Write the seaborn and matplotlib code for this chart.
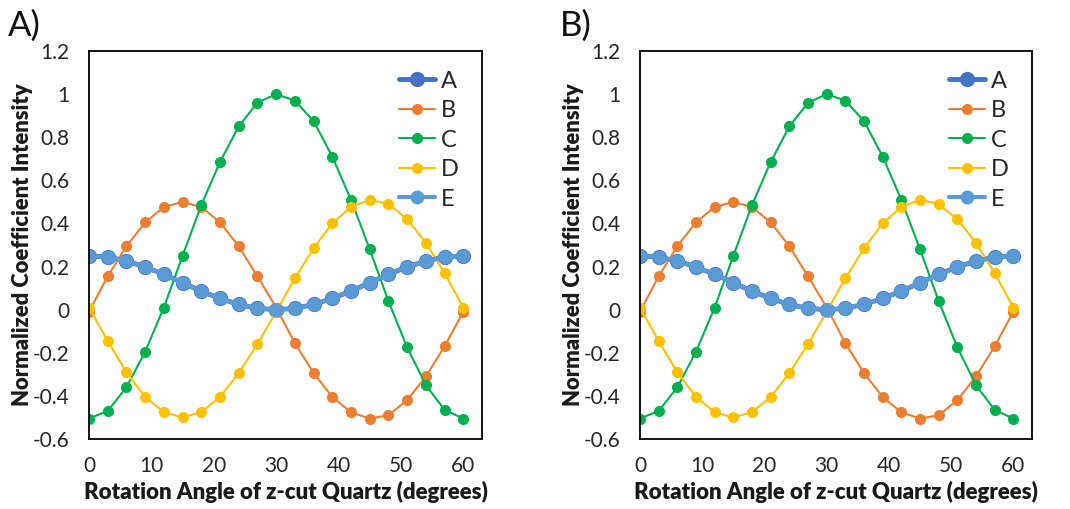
import numpy as np
import pandas as pd
import seaborn as sns
import matplotlib.pyplot as plt
from matplotlib.lines import Line2D

angles = [0, 3, 6, 9, 12, 15, 18, 21, 24, 27, 30, 33, 36, 39, 42, 45, 48, 51, 54, 57, 60]
series_a = [0.25, 0.244, 0.226, 0.198, 0.164, 0.125, 0.086, 0.052, 0.024, 0.006, 0.0,
            0.006, 0.024, 0.052, 0.086, 0.125, 0.164, 0.198, 0.226, 0.244, 0.25]
series_b = [-0.01, 0.155, 0.294, 0.405, 0.476, 0.5, 0.476, 0.405, 0.294, 0.155, 0.01,
            -0.155, -0.294, -0.405, -0.476, -0.505, -0.49, -0.42, -0.31, -0.17, -0.01]
series_c = [-0.505, -0.47, -0.36, -0.195, 0.01, 0.25, 0.485, 0.685, 0.85, 0.96, 1.0,
            0.97, 0.875, 0.71, 0.51, 0.28, 0.04, -0.175, -0.35, -0.465, -0.505]
series_d = [0.01, -0.145, -0.29, -0.405, -0.476, -0.5, -0.476, -0.405, -0.294, -0.16, -0.01,
            0.145, 0.285, 0.4, 0.476, 0.51, 0.49, 0.42, 0.31, 0.17, 0.01]
series_e = [0.25, 0.244, 0.226, 0.198, 0.164, 0.125, 0.086, 0.052, 0.024, 0.006, 0.0,
            0.006, 0.024, 0.052, 0.086, 0.125, 0.164, 0.198, 0.226, 0.244, 0.25]
series_names = ["A", "B", "C", "D", "E"]
y_ticks = [-0.6, -0.4, -0.2, 0, 0.2, 0.4, 0.6, 0.8, 1, 1.2]
y_tick_labels = ["-0.6", "-0.4", "-0.2", "0", "0.2", "0.4", "0.6", "0.8", "1", "1.2"]
x_ticks = [0, 10, 20, 30, 40, 50, 60]
panel_labels = ["A)", "B)"]

sns.set_theme(style="white")
plt.rcParams['font.family'] = ['Lato', 'DejaVu Sans']

colors = ["#4472C4", "#ED7D31", "#00B050", "#FFC000", "#5B9BD5"]
lws = [3.5, 1.5, 1.5, 1.5, 3.0]
mss = [11, 8, 8, 8, 10]
all_series = [series_a, series_b, series_c, series_d, series_e]

fig = plt.figure(figsize=(10.7, 5.09), dpi=100)
axes_pos = [[89/1070, 1-439/509, 393/1070, 388/509],
            [640/1070, 1-439/509, 392/1070, 388/509]]
label_pos = [(8/1070, 1-10/509), (560/1070, 1-10/509)]

for i, pos in enumerate(axes_pos):
    ax = fig.add_axes(pos)
    for name, vals, c, lw, ms in zip(series_names, all_series, colors, lws, mss):
        sns.lineplot(x=angles, y=vals, ax=ax, color=c, linewidth=lw, marker='o',
                     markersize=ms, markeredgewidth=0, label=name, legend=False)
    ax.set_xlim(0, 63)
    ax.set_ylim(-0.6, 1.2)
    ax.set_xticks(x_ticks)
    ax.set_xticklabels([str(t) for t in x_ticks])
    ax.set_yticks(y_ticks)
    ax.set_yticklabels(y_tick_labels)
    ax.tick_params(axis='both', direction='in', length=5, width=1.2, color='black',
                   labelsize=15, labelcolor='#262626')
    ax.tick_params(axis='x', pad=12)
    ax.tick_params(axis='y', pad=14)
    for s in ax.spines.values():
        s.set_color('black')
        s.set_linewidth(1.3)
    ax.set_xlabel("Rotation Angle of z-cut Quartz (degrees)", fontsize=16,
                  fontweight='heavy', color='#1a1a1a', labelpad=4)
    ax.set_ylabel("Normalized Coefficient Intensity", fontsize=15.8,
                  fontweight='heavy', color='#1a1a1a', labelpad=0)
    handles = [Line2D([0], [0], color=c, lw=lw, marker='o', markersize=ms,
                      markeredgewidth=0) for c, lw, ms in zip(colors, lws, mss)]
    ax.legend(handles, series_names, loc='upper right', bbox_to_anchor=(1.0, 1.01),
              frameon=False, fontsize=17, handlelength=1.5, labelspacing=0.36,
              handletextpad=0.25, borderaxespad=0.6)
    fig.text(label_pos[i][0], label_pos[i][1], panel_labels[i], fontsize=25,
             va='top', ha='left', color='#111111')

fig.savefig("out.png", dpi=100)
